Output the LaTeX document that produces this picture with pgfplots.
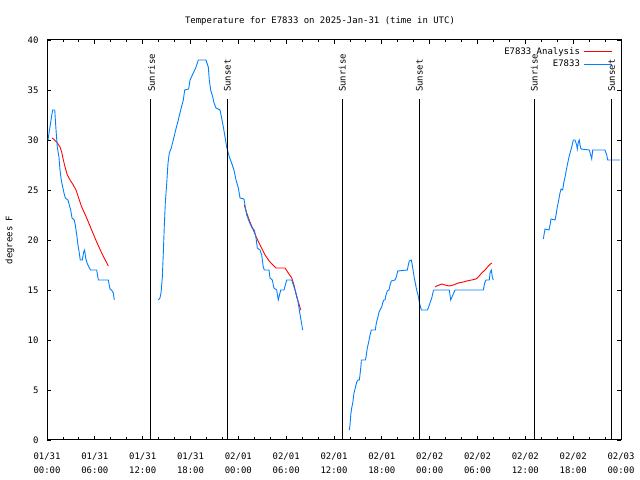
\documentclass[border=0pt]{standalone}
\usepackage{fontspec}
\setmainfont{DejaVu Sans Mono}
\usepackage{pgfplots}
\pgfplotsset{compat=1.18}
\definecolor{tblue}{RGB}{0,128,255}
\definecolor{tred}{RGB}{255,0,0}
\newcommand{\gf}{\fontsize{9}{14.5}\selectfont}
\begin{document}
\begin{tikzpicture}
\useasboundingbox (0,0) rectangle (640bp,480bp);
\begin{axis}[
  at={(47bp,40bp)}, anchor=south west,
  width=574bp, height=400bp, scale only axis,
  xmin=0, xmax=72, ymin=0, ymax=40,
  xtick={0,6,...,72},
  xticklabels={{01/31\\00:00},{01/31\\06:00},{01/31\\12:00},{01/31\\18:00},{02/01\\00:00},{02/01\\06:00},{02/01\\12:00},{02/01\\18:00},{02/02\\00:00},{02/02\\06:00},{02/02\\12:00},{02/02\\18:00},{02/03\\00:00}},
  xticklabel style={align=center, font=\gf, yshift=-9bp},
  minor x tick num=2,
  ytick={0,5,...,40},
  yticklabel style={font=\gf, xshift=-5bp},
  /pgf/number format/assume math mode=true,
  major tick length=4bp, minor tick length=2.5bp,
  axis line style={line width=1bp},
  every tick/.style={black, line width=0.8bp},
  tick align=inside,
  legend style={draw=none, fill=none, font=\gf, at={(0.9852,0.985)}, anchor=north east, inner sep=0pt, row sep=2.5bp, nodes={inner xsep=3.5bp, inner ysep=1bp}},
  legend plot pos=right,
  legend cell align=right,
  legend image code/.code={\draw[#1] (0bp,0bp) -- (28bp,0bp);},
]
% Analysis (red)
\addplot[tred, line width=0.9bp] coordinates {
(0.67,30.2) (1.21,29.8) (1.63,29.3) (1.84,28.8) (2.05,28.0) (2.30,27.2) (2.55,26.5) (2.89,26.0) (3.30,25.5) (3.64,25.0) (3.93,24.3) (4.35,23.3) (4.98,22.2) (5.60,21.0) (6.23,19.8) (6.86,18.7) (7.69,17.4)
};
\addlegendentry{E7833 Analysis}
% Observations (blue)
\addplot[tblue, line width=0.9bp] coordinates {
(0.13,30.0) (0.25,30.7) (0.45,31.7) (0.60,32.5) (0.71,33.0) (0.97,33.0) (1.09,31.5) (1.15,30.8) (1.29,29.3) (1.50,28.3) (1.63,27.0) (1.79,26.0) (1.97,25.3) (2.13,24.7) (2.30,24.2) (2.63,24.0) (2.80,23.5) (2.97,23.0) (3.14,22.2) (3.42,22.0) (3.55,21.5) (3.73,20.5) (3.89,19.5) (4.05,18.7) (4.17,18.0) (4.43,18.0) (4.60,18.8) (4.72,19.0) (4.85,18.2) (5.02,17.7) (5.31,17.2) (5.48,17.0) (6.23,17.0) (6.44,16.0) (7.69,16.0) (7.90,15.1) (8.10,15.0) (8.32,14.7) (8.44,14.0)
};
\addlegendentry{E7833}
\addplot[tred, line width=0.9bp, forget plot] coordinates {
(24.75,23.5) (25.05,22.7) (25.46,21.8) (25.88,21.0) (26.30,20.2) (26.72,19.5) (27.35,18.5) (27.97,17.8) (28.73,17.2) (29.86,17.2) (30.27,16.7) (30.70,16.2) (30.98,15.5) (31.32,14.3) (31.57,13.7) (31.82,13.0)
};
\addplot[tred, line width=0.9bp, forget plot] coordinates {
(48.67,15.3) (48.88,15.4) (49.51,15.6) (49.92,15.5) (50.46,15.4) (50.97,15.5) (51.59,15.7) (52.22,15.8) (52.65,15.9) (53.27,16.0) (53.81,16.1) (54.10,16.3) (54.53,16.7) (54.94,17.0) (55.36,17.4) (55.78,17.7)
};
\addplot[tblue, line width=0.9bp, forget plot] coordinates {
(13.96,14.0) (14.17,14.2) (14.30,14.7) (14.46,16.2) (14.59,18.7) (14.71,21.3) (14.84,23.7) (15.02,25.7) (15.18,27.7) (15.34,28.7) (15.59,29.2) (15.84,30.0) (16.14,31.0) (16.47,32.0) (16.77,33.0) (17.10,34.0) (17.27,35.0) (17.77,35.1) (17.94,36.0) (18.35,36.7) (18.65,37.2) (18.98,38.0) (19.94,38.0) (20.23,37.3) (20.36,36.0) (20.53,35.0) (20.79,34.3) (20.95,33.7) (21.20,33.2) (21.70,33.0) (21.91,32.2) (22.12,31.3) (22.33,30.3) (22.54,29.3) (22.87,28.3) (23.16,27.7) (23.45,27.0) (23.71,26.0) (24.00,25.2) (24.21,24.2) (24.71,24.1) (24.87,23.3) (25.05,22.5) (25.38,21.8) (25.72,21.2) (26.00,21.0) (26.22,20.2) (26.38,19.2) (26.72,19.0) (26.93,18.5) (27.13,17.3) (27.26,17.0) (27.85,17.0) (27.97,16.2) (28.26,16.0) (28.47,15.2) (28.81,15.0) (29.01,14.0) (29.32,15.0) (29.73,15.0) (30.07,16.0) (30.70,16.0) (30.98,15.3) (31.23,14.7) (31.45,14.0) (31.65,13.0) (31.86,12.0) (32.07,11.0)
};
\addplot[tblue, line width=0.9bp, forget plot] coordinates {
(37.92,1.0) (38.01,1.5) (38.10,2.5) (38.22,3.2) (38.35,3.7) (38.51,4.7) (38.67,5.2) (38.85,5.8) (39.01,6.0) (39.18,6.0) (39.26,6.5) (39.39,7.5) (39.43,8.0) (39.93,8.0) (40.02,8.3) (40.18,9.2) (40.35,9.8) (40.52,10.5) (40.68,11.0) (41.18,11.0) (41.31,11.7) (41.48,12.2) (41.65,12.8) (41.77,13.0) (41.98,13.3) (42.11,13.7) (42.24,14.0) (42.40,14.0) (42.52,14.5) (42.69,14.9) (42.90,15.0) (43.03,15.5) (43.19,15.9) (43.65,16.0) (43.82,16.3) (43.99,16.9) (45.20,17.0) (45.32,17.5) (45.45,17.9) (45.70,18.0) (45.82,17.5) (45.95,16.8) (46.07,16.2) (46.20,15.7) (46.37,15.0) (46.54,14.5) (46.70,13.8) (46.88,13.2) (46.98,13.0) (47.70,13.0) (47.83,13.2) (48.04,13.7) (48.26,14.2) (48.46,14.9) (48.55,15.0) (50.46,15.0) (50.64,14.0) (50.80,14.3) (51.18,15.0) (54.73,15.0) (54.90,15.7) (55.07,16.0) (55.48,16.0) (55.57,16.7) (55.73,17.0) (55.86,16.3) (55.98,16.0)
};
\addplot[tblue, line width=0.9bp, forget plot] coordinates {
(62.26,20.1) (62.34,20.5) (62.47,21.1) (62.97,21.0) (63.10,21.5) (63.22,22.1) (63.72,22.0) (63.85,22.5) (64.01,23.3) (64.19,24.0) (64.35,24.7) (64.48,25.1) (64.69,25.0) (64.81,25.7) (64.98,26.3) (65.14,27.0) (65.32,27.7) (65.48,28.3) (65.64,28.8) (65.82,29.3) (66.02,30.0) (66.23,30.0) (66.44,29.5) (66.52,29.1) (66.65,29.8) (66.77,30.0) (66.86,29.5) (66.98,29.1) (68.03,29.0) (68.20,28.5) (68.33,28.1) (68.45,29.0) (69.99,29.0) (70.21,28.5) (70.33,28.0) (71.88,28.0)
};
% sunrise / sunset lines
\addplot[black, line width=1bp, forget plot] coordinates {(13.0,0) (13.0,34.1)};
\addplot[black, line width=1bp, forget plot] coordinates {(22.62,0) (22.62,34.1)};
\addplot[black, line width=1bp, forget plot] coordinates {(37.05,0) (37.05,34.1)};
\addplot[black, line width=1bp, forget plot] coordinates {(46.7,0) (46.7,34.1)};
\addplot[black, line width=1bp, forget plot] coordinates {(61.13,0) (61.13,34.1)};
\addplot[black, line width=1bp, forget plot] coordinates {(70.83,0) (70.83,34.1)};
\node[rotate=90, anchor=west, font=\gf, inner sep=0pt] at (axis cs:13.12,34.8) {Sunrise};
\node[rotate=90, anchor=west, font=\gf, inner sep=0pt] at (axis cs:22.62,34.8) {Sunset};
\node[rotate=90, anchor=west, font=\gf, inner sep=0pt] at (axis cs:37.05,34.8) {Sunrise};
\node[rotate=90, anchor=west, font=\gf, inner sep=0pt] at (axis cs:46.7,34.8) {Sunset};
\node[rotate=90, anchor=west, font=\gf, inner sep=0pt] at (axis cs:61.13,34.8) {Sunrise};
\node[rotate=90, anchor=west, font=\gf, inner sep=0pt] at (axis cs:70.83,34.8) {Sunset};
\end{axis}
\node[font=\gf, anchor=base] at (320bp,456bp) {Temperature for E7833 on 2025-Jan-31 (time in UTC)};
\node[font=\gf, rotate=90] at (10bp,240bp) {degrees F};
\end{tikzpicture}
\end{document}
